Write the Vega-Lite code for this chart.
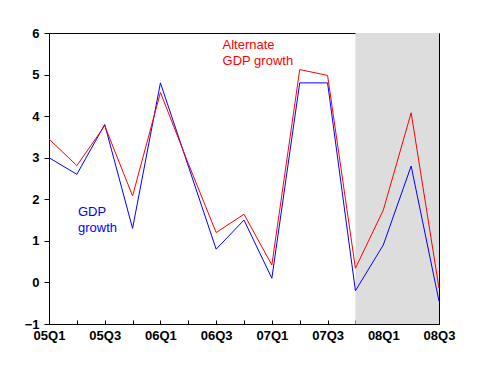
{
  "$schema": "https://vega.github.io/schema/vega-lite/v6.json",
  "width": 390,
  "height": 291,
  "autosize": {"type": "none"},
  "padding": {"left": 49, "top": 33, "right": 42, "bottom": 51},
  "background": "white",
  "config": {
    "view": {"stroke": "black", "strokeWidth": 1},
    "axis": {"labelFont": "Liberation Sans", "labelFontWeight": "bold", "labelFontSize": 13, "labelColor": "black", "domainColor": "black", "tickColor": "black", "title": null, "grid": false}
  },
  "datasets": {
    "series": [
      {"q": 0, "quarter": "05Q1", "series": "GDP growth", "v": 3.0},
      {"q": 1, "quarter": "05Q2", "series": "GDP growth", "v": 2.6},
      {"q": 2, "quarter": "05Q3", "series": "GDP growth", "v": 3.8},
      {"q": 3, "quarter": "05Q4", "series": "GDP growth", "v": 1.3},
      {"q": 4, "quarter": "06Q1", "series": "GDP growth", "v": 4.8},
      {"q": 5, "quarter": "06Q2", "series": "GDP growth", "v": 2.8},
      {"q": 6, "quarter": "06Q3", "series": "GDP growth", "v": 0.8},
      {"q": 7, "quarter": "06Q4", "series": "GDP growth", "v": 1.5},
      {"q": 8, "quarter": "07Q1", "series": "GDP growth", "v": 0.1},
      {"q": 9, "quarter": "07Q2", "series": "GDP growth", "v": 4.8},
      {"q": 10, "quarter": "07Q3", "series": "GDP growth", "v": 4.8},
      {"q": 11, "quarter": "07Q4", "series": "GDP growth", "v": -0.2},
      {"q": 12, "quarter": "08Q1", "series": "GDP growth", "v": 0.9},
      {"q": 13, "quarter": "08Q2", "series": "GDP growth", "v": 2.8},
      {"q": 14, "quarter": "08Q3", "series": "GDP growth", "v": -0.45},
      {"q": 0, "quarter": "05Q1", "series": "Alternate GDP growth", "v": 3.45},
      {"q": 1, "quarter": "05Q2", "series": "Alternate GDP growth", "v": 2.81},
      {"q": 2, "quarter": "05Q3", "series": "Alternate GDP growth", "v": 3.77},
      {"q": 3, "quarter": "05Q4", "series": "Alternate GDP growth", "v": 2.08},
      {"q": 4, "quarter": "06Q1", "series": "Alternate GDP growth", "v": 4.57},
      {"q": 5, "quarter": "06Q2", "series": "Alternate GDP growth", "v": 2.86},
      {"q": 6, "quarter": "06Q3", "series": "Alternate GDP growth", "v": 1.2},
      {"q": 7, "quarter": "06Q4", "series": "Alternate GDP growth", "v": 1.64},
      {"q": 8, "quarter": "07Q1", "series": "Alternate GDP growth", "v": 0.42},
      {"q": 9, "quarter": "07Q2", "series": "Alternate GDP growth", "v": 5.12},
      {"q": 10, "quarter": "07Q3", "series": "Alternate GDP growth", "v": 4.98},
      {"q": 11, "quarter": "07Q4", "series": "Alternate GDP growth", "v": 0.34},
      {"q": 12, "quarter": "08Q1", "series": "Alternate GDP growth", "v": 1.74},
      {"q": 13, "quarter": "08Q2", "series": "Alternate GDP growth", "v": 4.08},
      {"q": 14, "quarter": "08Q3", "series": "Alternate GDP growth", "v": -0.14}
    ]
  },
  "encoding": {
    "x": {"field": "q", "type": "quantitative",
      "scale": {"domain": [0, 14], "nice": false, "zero": false},
      "axis": {"values": [0,1,2,3,4,5,6,7,8,9,10,11,12,13,14], "tickSize": -4, "labelPadding": 9, "domain": true,
        "labelExpr": "datum.value % 2 == 0 ? ['05Q1','05Q3','06Q1','06Q3','07Q1','07Q3','08Q1','08Q3'][datum.value / 2] : ''",
        "labelFlush": false, "labelOverlap": false}}
  },
  "layer": [
    {
      "data": {"values": [{"start": 11, "end": 14}]},
      "mark": {"type": "rect", "color": "#dddddd"},
      "encoding": {"x": {"field": "start", "type": "quantitative"}, "x2": {"field": "end"}}
    },
    {
      "data": {"values": [{"g": 1}, {"g": 2}, {"g": 3}, {"g": 4}, {"g": 5}]},
      "mark": {"type": "rule", "color": "#c0c0c0", "strokeWidth": 1},
      "encoding": {"y": {"field": "g", "type": "quantitative", "scale": {"domain": [-1, 6], "nice": false}}}
    },
    {
      "data": {"values": [{"z": 0}]},
      "mark": {"type": "rule", "color": "black", "strokeWidth": 1},
      "encoding": {"y": {"field": "z", "type": "quantitative"}}
    },
    {
      "data": {"name": "series"},
      "mark": {"type": "line", "strokeWidth": 1},
      "encoding": {
        "y": {"field": "v", "type": "quantitative", "scale": {"domain": [-1, 6], "nice": false},
          "axis": {"values": [-1,0,1,2,3,4,5,6], "tickSize": 5, "labelPadding": 5}},
        "color": {"field": "series", "type": "nominal", "scale": {"domain": ["GDP growth", "Alternate GDP growth"], "range": ["#0000ff", "#ff0000"]}, "legend": null}
      }
    },
    {
      "data": {"values": [
        {"q": 6.23, "v": 5.85, "label": "Alternate\nGDP growth", "series": "Alternate GDP growth"},
        {"q": 1.04, "v": 1.83, "label": "GDP\ngrowth", "series": "GDP growth"}
      ]},
      "mark": {"type": "text", "align": "left", "baseline": "top", "font": "Liberation Sans", "fontSize": 13, "lineBreak": "\n", "lineHeight": 16},
      "encoding": {
        "y": {"field": "v", "type": "quantitative"},
        "text": {"field": "label"},
        "color": {"field": "series", "type": "nominal", "scale": {"domain": ["GDP growth", "Alternate GDP growth"], "range": ["#3300ff", "#ff0000"]}, "legend": null}
      }
    }
  ]
}
